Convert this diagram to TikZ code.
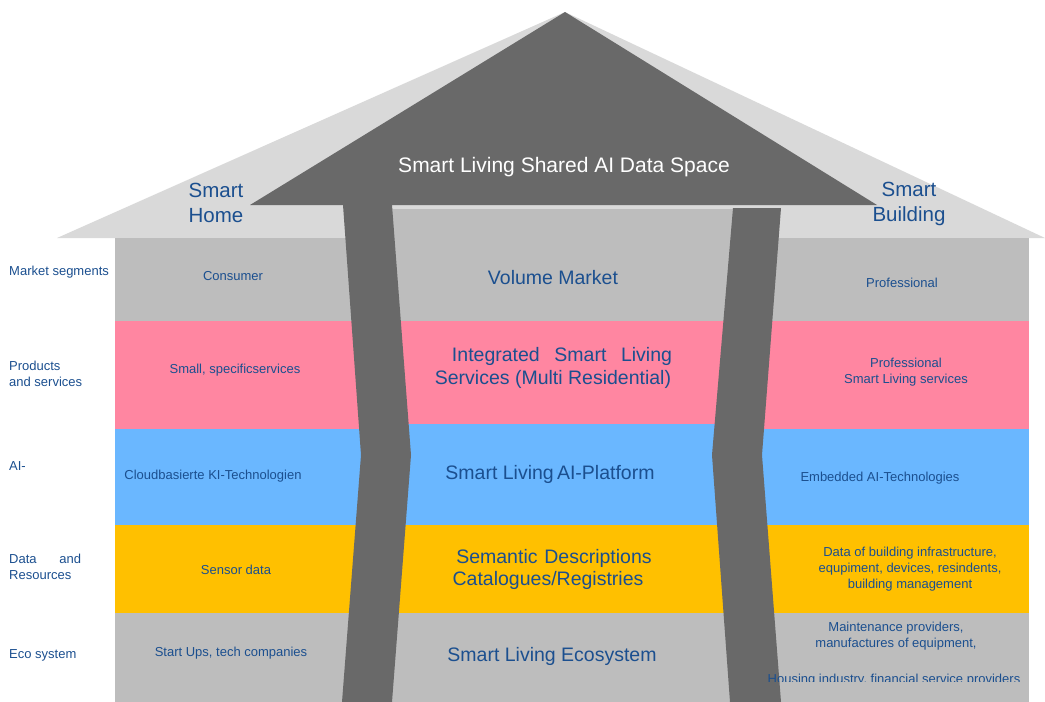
\documentclass[tikz,border=0pt]{standalone}
\usepackage{fontspec}
\setmainfont{Liberation Sans}
\definecolor{txtblue}{HTML}{1B4F8F}
\definecolor{roofl}{HTML}{D9D9D9}
\definecolor{darkg}{HTML}{696969}
\definecolor{bandgrey}{HTML}{BDBDBD}
\definecolor{bandpink}{HTML}{FF86A1}
\definecolor{bandblue}{HTML}{6AB7FF}
\definecolor{bandyel}{HTML}{FFC000}
\tikzset{
  small/.style={font=\fontsize{13}{16}\selectfont, text=txtblue, inner sep=0pt, align=center},
  lefttxt/.style={font=\fontsize{13}{15.5}\selectfont, text=txtblue, inner sep=0pt, align=left, anchor=west},
  mid/.style={font=\fontsize{19.5}{23}\selectfont, text=txtblue, inner sep=0pt, align=center},
  head/.style={font=\fontsize{20.5}{25}\selectfont, text=txtblue, inner sep=0pt, align=center},
  title/.style={font=\fontsize{21}{25}\selectfont, text=white, inner sep=0pt},
}
\begin{document}
\begin{tikzpicture}[x=1pt,y=-1pt]
\useasboundingbox (0,0) rectangle (1045,702);
% roof
\fill[roofl] (57,238) -- (565,12) -- (1045,238) -- cycle;
\fill[darkg] (250,205) -- (565,12) -- (877,205) -- cycle;
% bands
\fill[bandgrey] (115,238) rectangle (1029,321);
\fill[bandgrey] (392,209) rectangle (733,321);
\fill[bandpink] (115,321) rectangle (1029,429);
\fill[bandblue] (115,429) rectangle (1029,525);
\fill[bandblue] (395,424) rectangle (725,429);
\fill[bandyel] (115,525) rectangle (1029,613);
\fill[bandgrey] (115,613) rectangle (1029,702);
% shafts
\fill[darkg] (343,205) -- (392,205) -- (411,455) -- (392,702) -- (342,702) -- (361,455) -- cycle;
\fill[darkg] (733,208) -- (781,208) -- (762,455) -- (781,702) -- (730,702) -- (712,455) -- cycle;
% title texts
\node[title] (t) at (564,167) {Smart Living Shared AI Data Space};
\node[head] (sh) at (216,203) {Smart\\Home};
\node[head] (sb) at (909,204) {Smart\\Building};
% left labels
\node[lefttxt] (l1) at (9,272) {Market segments};
\node[lefttxt] (l2) at (9,374) {Products\\and services};
\node[lefttxt] (l3) at (9,466) {AI-};
\node[lefttxt] (l4) at (9,567) {Data\hspace{1.75em}and\\Resources};
\node[lefttxt] (l5) at (9,655) {Eco system};
% left column
\node[small] (c1) at (233,276) {Consumer};
\node[small] (c2) at (235,370) {Small, specificservices};
\node[small] (c3) at (213,476) {Cloudbasierte KI-Technologien};
\node[small] (c4) at (236,570) {Sensor data};
\node[small] (c5) at (231,653) {Start Ups, tech companies};
% center column
\node[mid] (m1) at (553,278) {Volume Market};
\node[mid] (m2a) at (562,356) {Integrated\hspace{0.75em}Smart\hspace{0.75em}Living};
\node[mid] (m2b) at (553,379) {Services (Multi Residential)};
\node[mid] (m3) at (550,474) {Smart Living\,AI-Platform};
\node[mid] (m4a) at (554,558) {Semantic\hspace{0.35em}Descriptions};
\node[mid] (m4b) at (548,580) {Catalogues/Registries};
\node[mid] (m5) at (552,656) {Smart Living Ecosystem};
% right column
\node[small] (r1) at (902,283) {Professional};
\node[small] (r2) at (906,372) {Professional\\Smart Living services};
\node[small] (r3) at (880,478) {Embedded AI-Technologies};
\node[small] (r4) at (910,569) {Data of building infrastructure,\\equpiment, devices, resindents,\\building management};
\node[small] (r5) at (896,636) {Maintenance providers,\\manufactures of equipment,};
\begin{scope}
\clip (700,600) rectangle (1045,681.5);
\node[small, anchor=base] (r6) at (894,683) {Housing industry, financial service providers};
\end{scope}
\end{tikzpicture}
\end{document}
